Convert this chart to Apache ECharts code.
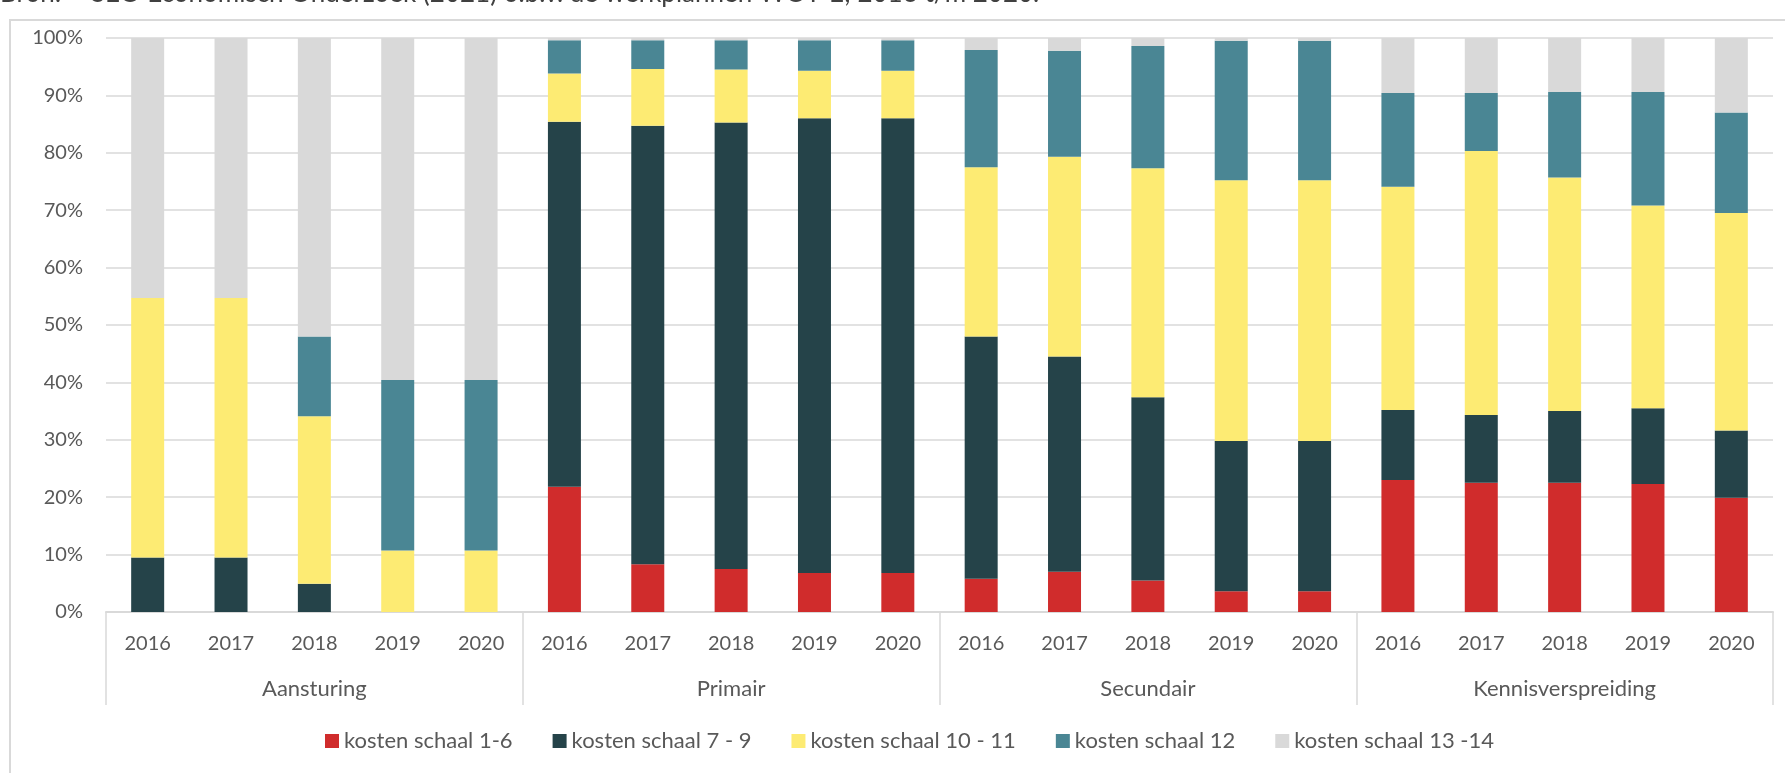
<!DOCTYPE html>
<html>
<head>
<meta charset="utf-8">
<script src="https://cdn.jsdelivr.net/npm/echarts@6/dist/echarts.min.js"></script>
<style>
  html, body { margin: 0; padding: 0; background: #ffffff; }
  #chart { width: 1785px; height: 773px; }
</style>
</head>
<body>
<div id="chart"></div>
<script>
// Categories
const years = ['2016', '2017', '2018', '2019', '2020'];
const groups = ['Aansturing', 'Primair', 'Secundair', 'Kennisverspreiding'];
const yearLabels = [].concat(years, years, years, years);
const yTicks = [0, 10, 20, 30, 40, 50, 60, 70, 80, 90, 100];

// Series names
const seriesNames = ['kosten schaal 1-6', 'kosten schaal 7 - 9', 'kosten schaal 10 - 11', 'kosten schaal 12', 'kosten schaal 13 -14'];

// Values (percent), order: Aansturing 2016-2020, Primair, Secundair, Kennisverspreiding
const schaal1_6 = [
  0, 0, 0, 0, 0,
  21.8, 8.3, 7.5, 6.8, 6.8,
  5.8, 7.0, 5.5, 3.6, 3.6,
  23.0, 22.5, 22.5, 22.3, 19.9
];
const schaal7_9 = [
  9.5, 9.5, 4.9, 0, 0,
  63.6, 76.4, 77.8, 79.2, 79.2,
  42.2, 37.5, 31.9, 26.2, 26.2,
  12.2, 11.8, 12.5, 13.2, 11.7
];
const schaal10_11 = [
  45.2, 45.2, 29.2, 10.7, 10.7,
  8.4, 9.9, 9.2, 8.3, 8.3,
  29.5, 34.8, 39.9, 45.4, 45.4,
  38.9, 46.0, 40.7, 35.3, 37.9
];
const schaal12 = [
  0, 0, 13.9, 29.7, 29.7,
  5.8, 5.0, 5.1, 5.3, 5.3,
  20.4, 18.5, 21.3, 24.3, 24.3,
  16.3, 10.1, 14.9, 19.8, 17.5
];
const schaal13_14 = [
  45.3, 45.3, 52.0, 59.6, 59.6,
  0.4, 0.4, 0.4, 0.4, 0.4,
  2.1, 2.2, 1.4, 0.5, 0.5,
  9.6, 9.6, 9.4, 9.4, 13.0
];

const seriesValues = [schaal1_6, schaal7_9, schaal10_11, schaal12, schaal13_14];
const colors = ['#D02C2C', '#254349', '#FDEB73', '#4A8694', '#D9D9D9'];

const FONT = 'Lato, "Noto Sans", sans-serif';
const TXT = '#595959';
const GRIDC = '#D9D9D9';

const chart = echarts.init(document.getElementById('chart'), null, { renderer: 'canvas' });

const option = {
  backgroundColor: '#ffffff',
  animation: false,
  textStyle: { fontFamily: FONT },
  graphic: [
    {
      type: 'rect',
      shape: { x: 10, y: 20, width: 2000, height: 2000 },
      style: { fill: 'none', stroke: GRIDC, lineWidth: 2 },
      silent: true
    },
    {
      type: 'text',
      x: 0, y: 7,
      style: { text: 'Bron:', font: '26px ' + FONT, fill: '#404040', verticalAlign: 'bottom' },
      silent: true
    },
    {
      type: 'text',
      x: 91, y: 7,
      style: { text: 'SEO Economisch Onderzoek (2021) o.b.v. de werkplannen WOT-E; 2016 t/m 2020.', font: '26px ' + FONT, fill: '#404040', verticalAlign: 'bottom' },
      silent: true
    }
  ],
  grid: { left: 106, right: 12, top: 38, bottom: 161, containLabel: false },
  legend: {
    data: seriesNames,
    left: 320,
    top: 725,
    icon: 'rect',
    itemWidth: 14,
    itemHeight: 14,
    itemGap: 40,
    textStyle: { fontSize: 22, color: TXT, fontFamily: FONT }
  },
  xAxis: [
    {
      type: 'category',
      data: yearLabels,
      position: 'bottom',
      axisLine: { show: true, lineStyle: { color: GRIDC, width: 2 } },
      axisTick: { show: false },
      axisLabel: { interval: 0, fontSize: 20, color: TXT, margin: 22, fontFamily: FONT },
      splitLine: { show: false }
    },
    {
      type: 'category',
      data: groups,
      position: 'bottom',
      axisLine: { show: false },
      axisTick: { show: true, interval: 0, length: 93, lineStyle: { color: GRIDC, width: 1.5 } },
      axisLabel: { interval: 0, fontSize: 22, color: TXT, margin: 66, fontFamily: FONT },
      splitLine: { show: false }
    }
  ],
  yAxis: {
    type: 'value',
    min: yTicks[0],
    max: yTicks[yTicks.length - 1],
    interval: 10,
    axisLine: { show: false },
    axisTick: { show: false },
    axisLabel: { formatter: '{value}%', fontSize: 20, color: TXT, margin: 23, fontFamily: FONT },
    splitLine: { show: true, lineStyle: { color: GRIDC, width: 1.5 } }
  },
  series: seriesNames.map((name, i) => ({
    name: name,
    type: 'bar',
    stack: 'total',
    xAxisIndex: 0,
    barWidth: 33,
    data: seriesValues[i],
    itemStyle: { color: colors[i] },
    emphasis: { disabled: true }
  }))
};

chart.setOption(option);
</script>
</body>
</html>
